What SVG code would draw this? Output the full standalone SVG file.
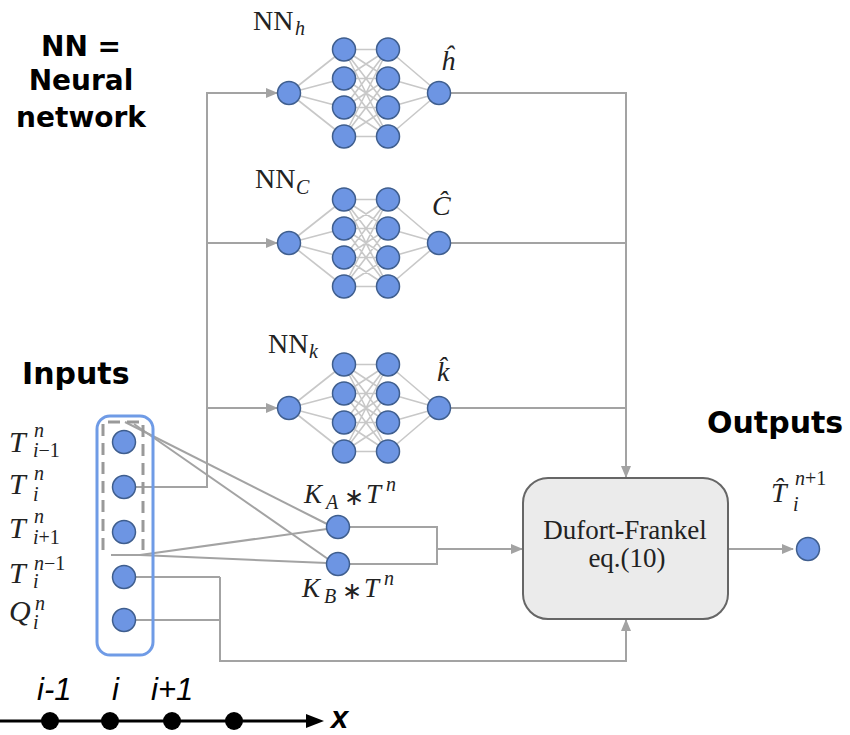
<svg xmlns="http://www.w3.org/2000/svg" xmlns:xlink="http://www.w3.org/1999/xlink" width="850" height="735" viewBox="0 0 850 735">
<style>
.bold{font-family:"DejaVu Sans",Verdana,sans-serif;font-weight:bold;font-size:28px;fill:#000}
.m{font-family:"Liberation Serif","Times New Roman",serif;fill:#222;font-size:30px}
.s{font-size:20px}
.it{font-style:italic}
.up{font-style:normal}
.node{fill:#6d95e3;stroke:#3f5e8e;stroke-width:1.5}
.conn{fill:none;stroke:#a3a3a3;stroke-width:2}
.nnl{fill:none;stroke:#c8c8c8;stroke-width:1.6}
.ax{font-family:"Liberation Sans",Arial,sans-serif;font-style:italic;font-size:31px;fill:#000}
</style>
<defs>
<marker id="arr" markerUnits="userSpaceOnUse" markerWidth="12" markerHeight="10" refX="11" refY="5" orient="auto">
<path d="M0,0 L12,5 L0,10 z" fill="#a3a3a3"/>
</marker>
<g id="net">
<path class="nnl" d="M0 0L55 -43.5M0 0L55 -14.5M0 0L55 14.5M0 0L55 43.5M55 -43.5L99 -43.5M55 -43.5L99 -14.5M55 -43.5L99 14.5M55 -43.5L99 43.5M55 -14.5L99 -43.5M55 -14.5L99 -14.5M55 -14.5L99 14.5M55 -14.5L99 43.5M55 14.5L99 -43.5M55 14.5L99 -14.5M55 14.5L99 14.5M55 14.5L99 43.5M55 43.5L99 -43.5M55 43.5L99 -14.5M55 43.5L99 14.5M55 43.5L99 43.5M99 -43.5L150 0M99 -14.5L150 0M99 14.5L150 0M99 43.5L150 0"/>
<circle class="node" cx="0" cy="0" r="11.5"/>
<circle class="node" cx="55" cy="-43.5" r="11.5"/>
<circle class="node" cx="55" cy="-14.5" r="11.5"/>
<circle class="node" cx="55" cy="14.5" r="11.5"/>
<circle class="node" cx="55" cy="43.5" r="11.5"/>
<circle class="node" cx="99" cy="-43.5" r="11.5"/>
<circle class="node" cx="99" cy="-14.5" r="11.5"/>
<circle class="node" cx="99" cy="14.5" r="11.5"/>
<circle class="node" cx="99" cy="43.5" r="11.5"/>
<circle class="node" cx="150" cy="0" r="11.5"/>
</g>
</defs>
<rect width="850" height="735" fill="#fff"/>

<g id="legend">
<text class="bold" x="81" y="56" text-anchor="middle">NN =</text>
<text class="bold" x="81" y="90" text-anchor="middle">Neural</text>
<text class="bold" x="81" y="127" text-anchor="middle">network</text>
</g>
<text class="bold" x="22" y="384" style="font-size:30px">Inputs</text>
<text class="bold" x="707" y="433" style="font-size:30px">Outputs</text>

<g id="connectors">
<path class="conn" d="M135,487 H207 V93 H277" marker-end="url(#arr)"/>
<path class="conn" d="M207,243 H277" marker-end="url(#arr)"/>
<path class="conn" d="M207,408 H277" marker-end="url(#arr)"/>
<path class="conn" d="M450,93 H626 V477" marker-end="url(#arr)"/>
<path class="conn" d="M450,243 H626"/>
<path class="conn" d="M450,408 H626"/>
<path class="conn" d="M125,422 L327,524"/>
<path class="conn" d="M134,424 L328,559"/>
<path class="conn" d="M111,555 H146"/>
<path class="conn" d="M140,555 L327,529"/>
<path class="conn" d="M140,555 L327,563"/>
<path class="conn" d="M350,527 H437 V564 H350"/>
<path class="conn" d="M437,549 H522" marker-end="url(#arr)"/>
<path class="conn" d="M135,577 H220"/>
<path class="conn" d="M135,620 H220"/>
<path class="conn" d="M220,577 V661 H626 V620" marker-end="url(#arr)"/>
<path class="conn" d="M729,549 H793" marker-end="url(#arr)"/>
</g>

<g id="nn-h">
<use xlink:href="#net" href="#net" transform="translate(289,93)"/>
<text class="m" x="253" y="30" style="font-size:28px">NN<tspan class="it" x="295" y="35" style="font-size:20px">h</tspan></text>
<text class="m it" x="441" y="70" style="font-size:28px">ĥ</text>
</g>
<g id="nn-c">
<use xlink:href="#net" href="#net" transform="translate(289,243)"/>
<text class="m" x="255" y="188" style="font-size:28px">NN<tspan class="it" x="296" y="194" style="font-size:20px">C</tspan></text>
<text class="m it" x="432" y="215" style="font-size:28px">Ĉ</text>
</g>
<g id="nn-k">
<use xlink:href="#net" href="#net" transform="translate(289,408)"/>
<text class="m" x="268" y="353" style="font-size:28px">NN<tspan class="it" x="309" y="358" style="font-size:20px">k</tspan></text>
<text class="m it" x="437" y="381" style="font-size:28px">k̂</text>
</g>

<g id="inputs">
<rect x="97" y="416" width="56" height="239" rx="13" fill="none" stroke="#6f9be6" stroke-width="3"/>
<path d="M103,550 V422 H143 V550" fill="none" stroke="#999" stroke-width="3" stroke-dasharray="12,7"/>
<circle class="node" cx="124" cy="442" r="11.5"/>
<circle class="node" cx="124" cy="487" r="11.5"/>
<circle class="node" cx="124" cy="532" r="11.5"/>
<circle class="node" cx="124" cy="577" r="11.5"/>
<circle class="node" cx="124" cy="620" r="11.5"/>
<text class="m it" x="9" y="452">T<tspan class="s" x="34" y="437">n</tspan><tspan class="s" x="33" y="457">i<tspan class="up">−1</tspan></tspan></text>
<text class="m it" x="9" y="494">T<tspan class="s" x="34" y="480">n</tspan><tspan class="s" x="33" y="501">i</tspan></text>
<text class="m it" x="9" y="538">T<tspan class="s" x="34" y="523">n</tspan><tspan class="s" x="33" y="544">i<tspan class="up">+1</tspan></tspan></text>
<text class="m it" x="9" y="583">T<tspan class="s" x="34" y="570">n<tspan class="up">−1</tspan></tspan><tspan class="s" x="33" y="588">i</tspan></text>
<text class="m it" x="9" y="621">Q<tspan class="s" x="35" y="610">n</tspan><tspan class="s" x="33" y="629">i</tspan></text>
</g>

<g id="ka">
<circle class="node" cx="338" cy="527" r="11.5"/>
<text class="m it" x="304" y="503" style="font-size:27px">K<tspan x="326" y="509" style="font-size:20px">A</tspan><tspan class="up" x="344" y="505" style="font-size:24px">∗</tspan><tspan x="366" y="503">T</tspan><tspan x="386" y="491" style="font-size:20px">n</tspan></text>
</g>
<g id="kb">
<circle class="node" cx="338" cy="564" r="11.5"/>
<text class="m it" x="302" y="597" style="font-size:27px">K<tspan x="324" y="603" style="font-size:20px">B</tspan><tspan class="up" x="342" y="599" style="font-size:24px">∗</tspan><tspan x="364" y="597">T</tspan><tspan x="384" y="585" style="font-size:20px">n</tspan></text>
</g>

<g id="dufort">
<rect x="523" y="478" width="205" height="141" rx="25" fill="#ebebeb" stroke="#666" stroke-width="2"/>
<text class="m" x="625" y="539" text-anchor="middle" style="font-size:27px">Dufort-Frankel</text>
<text class="m" x="627" y="567" text-anchor="middle" style="font-size:27px">eq.(10)</text>
</g>

<g id="output">
<circle class="node" cx="808" cy="549" r="11.5"/>
<text class="m it" x="771" y="502" style="font-size:28px">T̂<tspan class="s" x="795" y="485">n<tspan class="up">+1</tspan></tspan><tspan class="s" x="793" y="511">i</tspan></text>
</g>

<g id="axis">
<line x1="0" y1="721" x2="310" y2="721" stroke="#000" stroke-width="3"/>
<path d="M306,714 L324,721 L306,728 z" fill="#000"/>
<circle cx="50" cy="721" r="9" fill="#000"/>
<circle cx="110" cy="721" r="9" fill="#000"/>
<circle cx="172" cy="721" r="9" fill="#000"/>
<circle cx="234" cy="721" r="9" fill="#000"/>
<text class="ax" x="37" y="700">i-1</text>
<text class="ax" x="112" y="700">i</text>
<text class="ax" x="151" y="700">i+1</text>
<text class="ax" x="331" y="728" style="font-weight:bold;font-size:31px">x</text>
</g>
</svg>
